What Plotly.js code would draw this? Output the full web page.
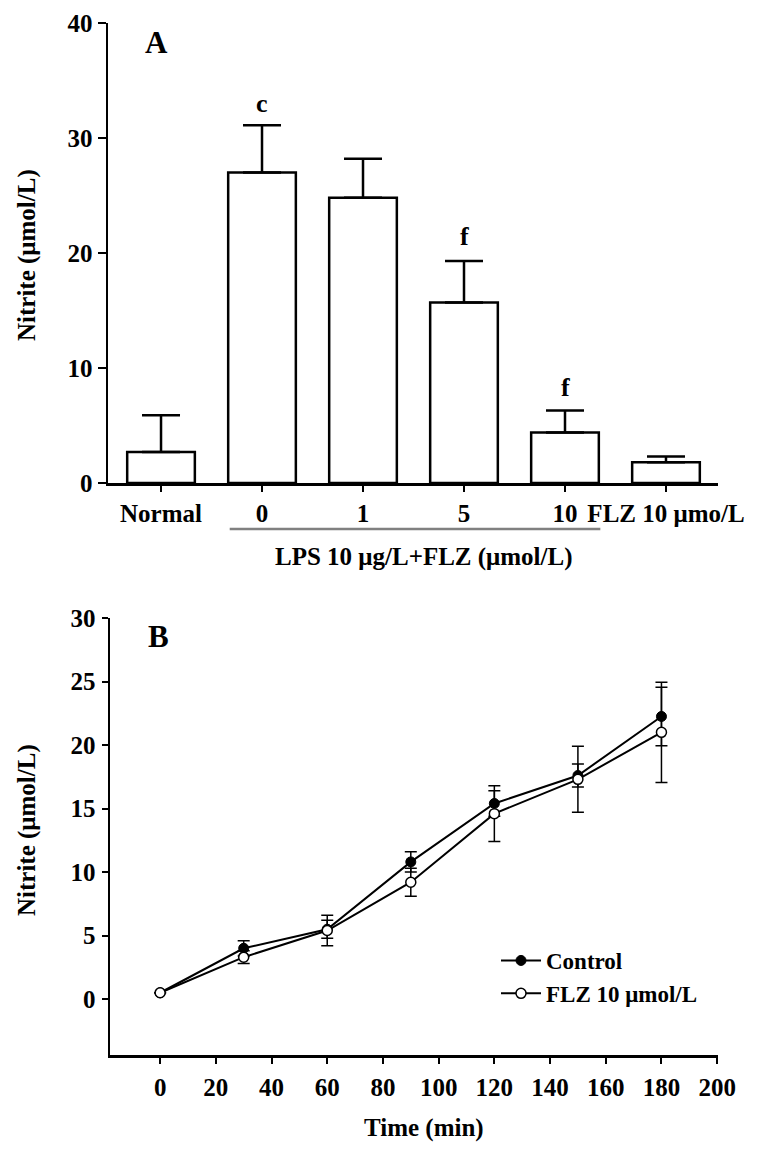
<!DOCTYPE html>
<html>
<head>
<meta charset="utf-8">
<script src="https://cdn.plot.ly/plotly-3.0.1.min.js"></script>
<style>html,body{margin:0;padding:0;background:#fff;}#chart{width:768px;height:1152px;}</style>
</head>
<body>
<div id="chart"></div>
<script>
// Panel A data
const groupLabels = ['Normal', '0', '1', '5', '10', 'FLZ 10 μmo/L'];
const nitriteA = [2.7, 27.0, 24.8, 15.7, 4.4, 1.8];
const nitriteAErr = [3.2, 4.1, 3.4, 3.6, 1.9, 0.5];
const sigLabels = ['', 'c', '', 'f', 'f', ''];
const sigY = [0, 33.0, 0, 21.4, 8.3, 0];

// Panel B data
const timeMin = [0, 30, 60, 90, 120, 150, 180];
const controlVals = [0.5, 4.0, 5.5, 10.8, 15.4, 17.6, 22.25];
const controlErr = [0, 0.6, 0.7, 0.8, 1.0, 0.9, 2.3];
const flzVals = [0.5, 3.3, 5.4, 9.2, 14.6, 17.3, 21.0];
const flzErr = [0, 0.5, 1.2, 1.1, 2.2, 2.6, 3.95];
const seriesNames = ['Control', 'FLZ 10 μmol/L'];

const W = 768, H = 1152;
const FAM = 'Liberation Serif, Times New Roman, serif';
const px = v => v / W;
const py = v => 1 - v / H;
const idx = groupLabels.map((_, i) => i);

const traces = [
  {
    type: 'bar', x: idx, y: nitriteA, width: 0.67,
    marker: {color: '#ffffff', line: {color: '#000', width: 2.5}},
    error_y: {type: 'data', symmetric: false, array: nitriteAErr,
      arrayminus: nitriteAErr.map(() => 0), color: '#000', thickness: 2.5, width: 19},
    xaxis: 'x', yaxis: 'y', showlegend: false, hoverinfo: 'skip'
  },
  {
    type: 'scatter', mode: 'lines+markers', name: seriesNames[0],
    x: timeMin, y: controlVals,
    line: {color: '#000', width: 2},
    marker: {symbol: 'circle', size: 10, color: '#000', line: {color: '#000', width: 1}},
    error_y: {type: 'data', array: controlErr, color: '#000', thickness: 1.5, width: 6},
    xaxis: 'x2', yaxis: 'y2'
  },
  {
    type: 'scatter', mode: 'lines+markers', name: seriesNames[1],
    x: timeMin, y: flzVals,
    line: {color: '#000', width: 2},
    marker: {symbol: 'circle', size: 10, color: '#fff', line: {color: '#000', width: 1.5}},
    error_y: {type: 'data', array: flzErr, color: '#000', thickness: 1.5, width: 6},
    xaxis: 'x2', yaxis: 'y2'
  }
];

const tickFont = {family: FAM, size: 25, color: '#000', weight: 'bold'};
const titleFont = {family: FAM, size: 25, color: '#000', weight: 'bold'};

const annotations = [
  {text: 'A', xref: 'paper', yref: 'paper', x: px(156), y: py(42), showarrow: false,
   font: {family: FAM, size: 31, color: '#000', weight: 'bold'}, xanchor: 'center', yanchor: 'middle'},
  {text: 'B', xref: 'paper', yref: 'paper', x: px(158), y: py(636), showarrow: false,
   font: {family: FAM, size: 31, color: '#000', weight: 'bold'}, xanchor: 'center', yanchor: 'middle'},
  {text: 'Nitrite (μmol/L)', xref: 'paper', yref: 'paper', x: px(27), y: py(255), textangle: -90,
   showarrow: false, font: titleFont, xanchor: 'center', yanchor: 'middle'},
  {text: 'Nitrite (μmol/L)', xref: 'paper', yref: 'paper', x: px(27), y: py(830), textangle: -90,
   showarrow: false, font: titleFont, xanchor: 'center', yanchor: 'middle'},
  {text: 'LPS 10 μg/L+FLZ (μmol/L)', xref: 'x', yref: 'paper', x: 2.6, y: py(557),
   showarrow: false, font: titleFont, xanchor: 'center', yanchor: 'middle'},
  {text: 'Time (min)', xref: 'paper', yref: 'paper', x: px(424), y: py(1128),
   showarrow: false, font: titleFont, xanchor: 'center', yanchor: 'middle'}
];
sigLabels.forEach((t, i) => {
  if (t) annotations.push({text: t, xref: 'x', yref: 'y', x: i, y: sigY[i], showarrow: false,
    font: {family: FAM, size: 26, color: '#000', weight: 'bold'}, xanchor: 'center', yanchor: 'middle'});
});

const layout = {
  width: W, height: H,
  margin: {l: 0, r: 0, t: 0, b: 0},
  paper_bgcolor: '#fff', plot_bgcolor: '#fff',
  font: {family: FAM, color: '#000'},
  xaxis: {
    domain: [px(108), px(718)], anchor: 'y', range: [-0.525, 5.515],
    tickmode: 'array', tickvals: idx, ticktext: groupLabels,
    showline: true, linecolor: '#000', linewidth: 3, ticks: 'outside', ticklen: 6, tickwidth: 2, tickcolor: '#000',
    showgrid: false, zeroline: false, tickfont: tickFont, ticklabelstandoff: 0, fixedrange: true
  },
  yaxis: {
    domain: [py(483), py(23)], anchor: 'x', range: [0, 40],
    tickvals: [0, 10, 20, 30, 40],
    showline: true, linecolor: '#000', linewidth: 2.5, ticks: 'outside', ticklen: 8, tickwidth: 2, tickcolor: '#000',
    showgrid: false, zeroline: false, tickfont: tickFont, ticklabelstandoff: 0, fixedrange: true
  },
  xaxis2: {
    domain: [px(110), px(718)], anchor: 'y2', range: [-18, 200.3],
    tickvals: [0, 20, 40, 60, 80, 100, 120, 140, 160, 180, 200],
    showline: true, linecolor: '#000', linewidth: 2.5, ticks: 'outside', ticklen: 6, tickwidth: 2, tickcolor: '#000',
    showgrid: false, zeroline: false, tickfont: tickFont, ticklabelstandoff: 2, fixedrange: true
  },
  yaxis2: {
    domain: [py(1055), py(618)], anchor: 'x2', range: [-4.4, 30],
    tickvals: [0, 5, 10, 15, 20, 25, 30],
    showline: true, linecolor: '#000', linewidth: 2.5, ticks: 'outside', ticklen: 6, tickwidth: 2, tickcolor: '#000',
    showgrid: false, zeroline: false, tickfont: tickFont, ticklabelstandoff: 1, fixedrange: true
  },
  shapes: [
    {type: 'line', xref: 'x', yref: 'paper', x0: 0.68, x1: 4.35, y0: py(529), y1: py(529),
     line: {color: '#808080', width: 2.5}}
  ],
  annotations: annotations,
  showlegend: true,
  legend: {x: px(496), y: py(939), xanchor: 'left', yanchor: 'top', bgcolor: 'rgba(0,0,0,0)',
    font: {family: FAM, size: 23, color: '#000', weight: 'bold'}, tracegroupgap: 0, itemwidth: 40}
};

Plotly.newPlot('chart', traces, layout, {staticPlot: true, displayModeBar: false});
</script>
</body>
</html>
